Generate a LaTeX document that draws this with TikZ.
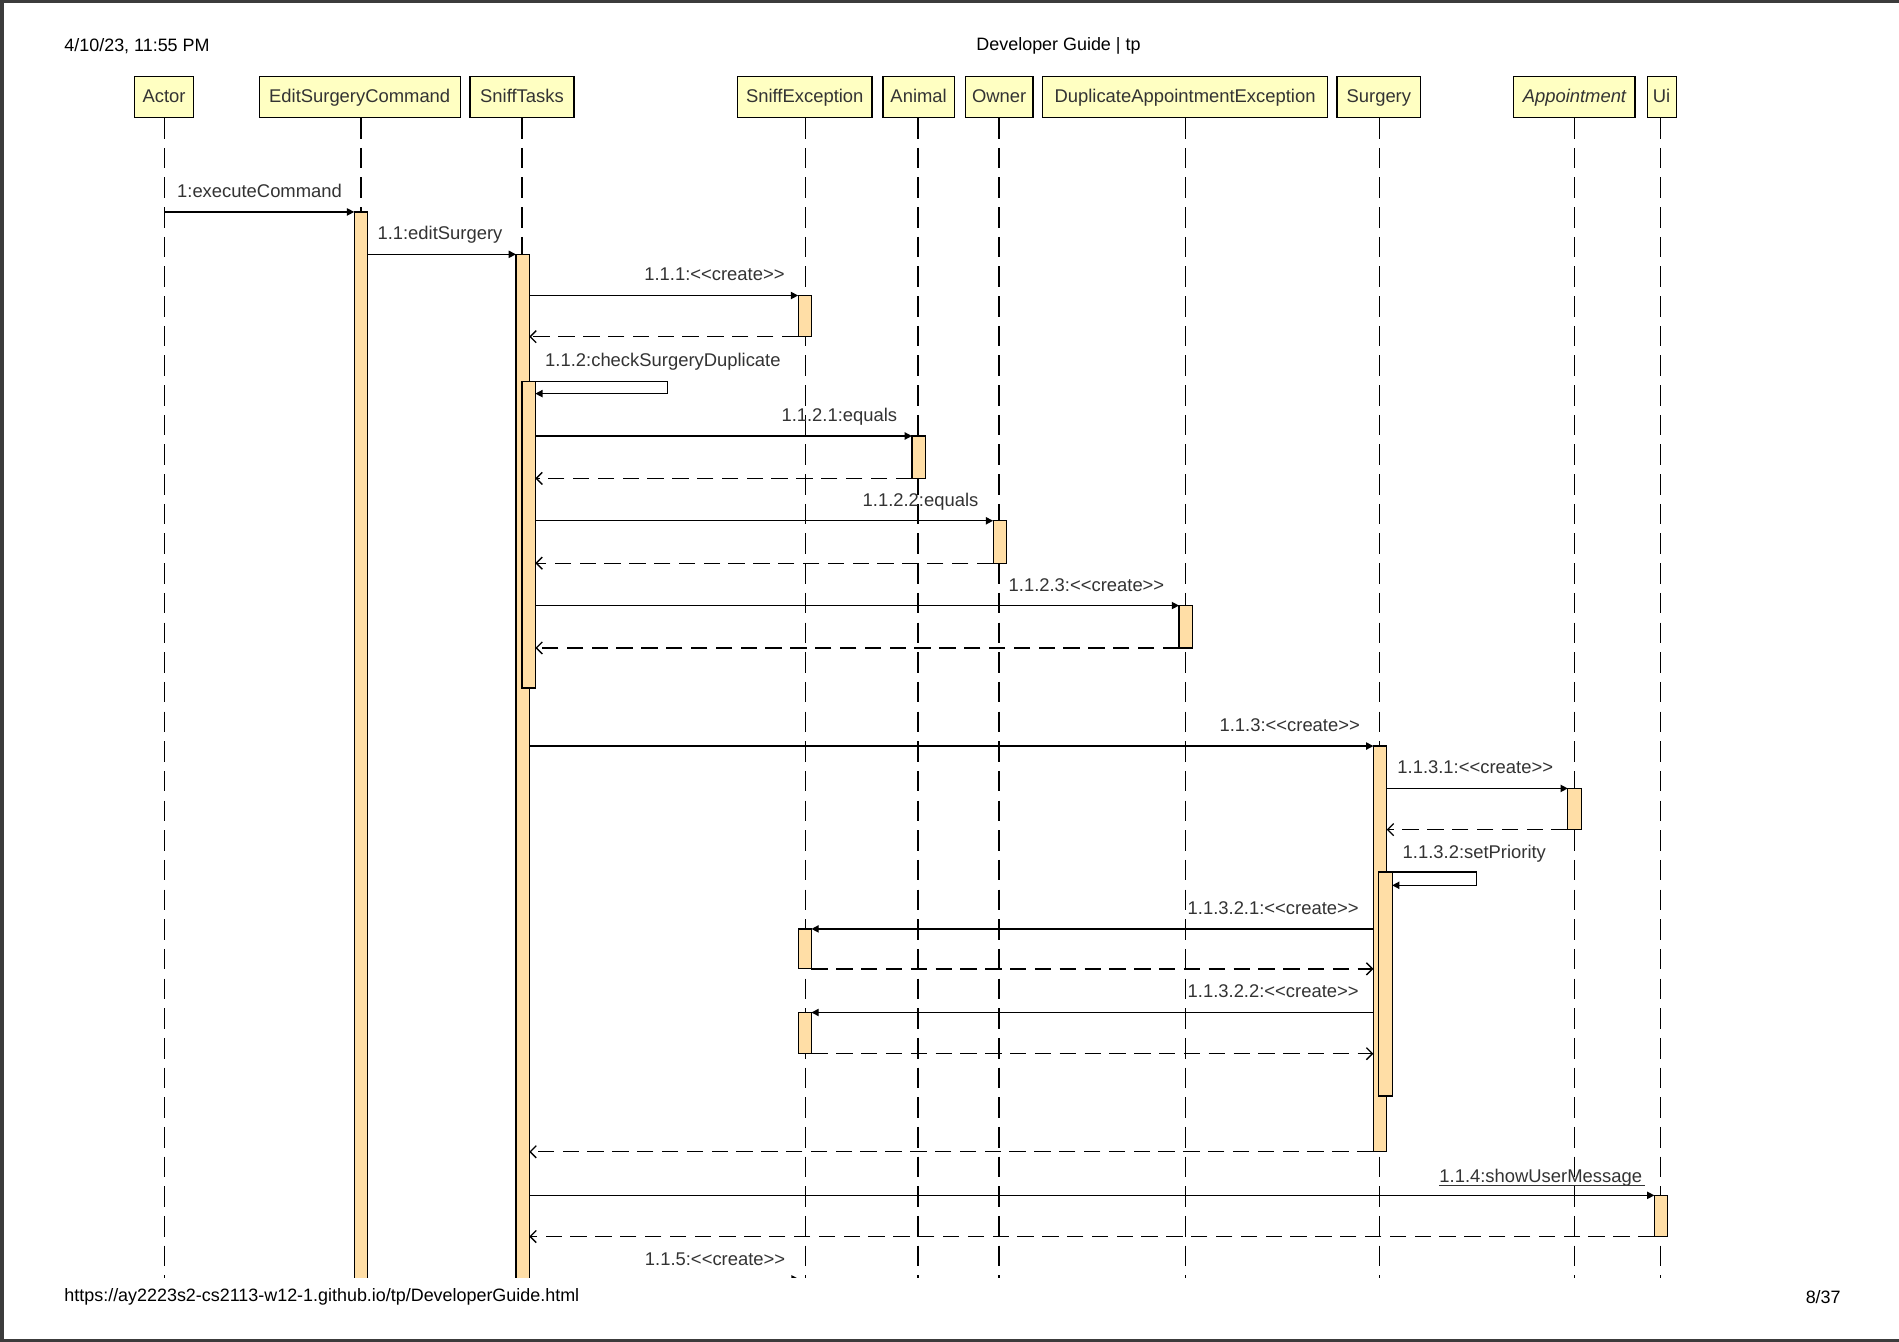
\documentclass[tikz,border=0pt]{standalone}
\usepackage{fontspec}
\setmainfont{Liberation Sans}
\usetikzlibrary{arrows.meta,calc}
\definecolor{headfill}{HTML}{FFFFC2}
\definecolor{actfill}{HTML}{FFDEA6}
\definecolor{txt}{HTML}{333333}
\definecolor{pageborder}{HTML}{3C3C3C}
\begin{document}
\begin{tikzpicture}[x=1pt,y=-1pt,
  head/.style={draw=black, line width=1pt, fill=headfill, minimum height=34pt, inner sep=0pt, text height=12pt, text depth=2pt, text=txt, font=\fontsize{15.2}{18}\selectfont},
  act/.style={draw=black, line width=1pt, fill=actfill, minimum width=11pt, inner sep=0pt, outer sep=0pt, anchor=north},
  lifeline/.style={line width=1.3pt, dash pattern=on 17pt off 7.5pt},
  msg/.style={line width=1.1pt, -{Triangle[length=6pt,width=6pt]}},
  ret/.style={line width=1.1pt, dash pattern=on 13.5pt off 7pt, -{Straight Barb[length=5pt,width=10pt]}},
  selfmsg/.style={line width=1.1pt, -{Triangle[length=6pt,width=6pt]}},
  lbl/.style={text=txt, font=\fontsize{15.2}{18}\selectfont, inner sep=0pt},
  pagetxt/.style={font=\fontsize{14.8}{18}\selectfont, inner sep=0pt}
]
\useasboundingbox (0,0) rectangle (1568,1108);
\fill[white] (0,0) rectangle (1568,1108);
% page frame
\draw[pageborder, line width=2.5pt] (0,1.2) -- (1568,1.2);
\draw[pageborder, line width=3pt] (1.5,0) -- (1.5,1108);
\draw[pageborder, line width=2.5pt] (0,1106.8) -- (1568,1106.8);
% page header / footer
\node[pagetxt, anchor=west] (date) at (53,38) {4/10/23, 11:55 PM};
\node[pagetxt] (title) at (874,38) {Developer Guide | tp};
\node[pagetxt, anchor=west] (url) at (53,1071) {https://ay2223s2-cs2113-w12-1.github.io/tp/DeveloperGuide.html};
\node[pagetxt, anchor=east] (pageno) at (1520,1071) {8/37};

% lifeline heads
\node[head, minimum width=49pt] (actor) at (135.5,80) {Actor};
\node[head, minimum width=166pt] (esc) at (297,80) {EditSurgeryCommand};
\node[head, minimum width=86pt] (st) at (431,80) {SniffTasks};
\node[head, minimum width=111pt] (se) at (664.5,80) {SniffException};
\node[head, minimum width=59pt] (an) at (758.5,80) {Animal};
\node[head, minimum width=56pt] (ow) at (825,80) {Owner};
\node[head, minimum width=235pt] (dae) at (978.5,80) {DuplicateAppointmentException};
\node[head, minimum width=69pt] (su) at (1138.5,80) {Surgery};
\node[head, minimum width=100pt] (ap) at (1300,80) {\itshape Appointment};
\node[head, minimum width=24pt] (ui) at (1372,80) {Ui};

\begin{scope}
\clip (0,0) rectangle (1568,1055);
% lifelines
\foreach \h/\x in {actor/136, esc/298, st/431, se/665, an/758, ow/825, dae/979, su/1139, ap/1300, ui/1371}{
  \draw[lifeline] (\h.south -| \x,0) -- (\x,1060);
}
% activations
\node[act, minimum height=900pt] (aESC) at (298,175) {};
\node[act, minimum height=870pt] (aST) at (431.5,210) {};
\node[act, minimum height=34pt] (aSE1) at (664.5,244) {};
\node[act, minimum height=253pt] (aST2) at (436.5,315) {};
\node[act, minimum height=35pt] (aAn) at (758.5,360) {};
\node[act, minimum height=35pt] (aOw) at (825.5,430) {};
\node[act, minimum height=35pt] (aDAE) at (979,500) {};
\node[act, minimum height=335pt] (aSu) at (1139.5,616) {};
\node[act, minimum height=34pt] (aAp) at (1300,651) {};
\node[act, minimum height=185pt] (aSu2) at (1144,720) {};
\node[act, minimum height=33pt] (aSE2) at (664.5,767) {};
\node[act, minimum height=34pt] (aSE3) at (664.5,836) {};
\node[act, minimum height=34pt] (aUi) at (1371.5,987) {};
\coordinate (c115) at (659.5,1056);

% messages
\draw[msg] (actor.south |- aESC.north) -- (aESC.north west);
\node[lbl, anchor=base east] (l1) at ($(aESC.north west)+(-10,-12)$) {1:executeCommand};

\draw[msg] (aESC.east |- aST.north) -- (aST.north west);
\node[lbl, anchor=base east] (l2) at ($(aST.north west)+(-11,-12)$) {1.1:editSurgery};

\draw[msg] (aST.east |- aSE1.north) -- (aSE1.north west);
\node[lbl, anchor=base east] (l3) at ($(aSE1.north west)+(-11,-12)$) {1.1.1:<{}<create>{}>};
\draw[ret] (aSE1.south west) -- (aST.east |- aSE1.south);

\draw[selfmsg] (aST2.north east) -- (551,315) -- (551,325) -- (aST2.east |- 0,325);
\node[lbl, anchor=base west] (l4) at (450,303) {1.1.2:checkSurgeryDuplicate};

\draw[msg] (aST2.east |- aAn.north) -- (aAn.north west);
\node[lbl, anchor=base east] (l5) at ($(aAn.north west)+(-12,-12)$) {1.1.2.1:equals};
\draw[ret] (aAn.south west) -- (aST2.east |- aAn.south);

\draw[msg] (aST2.east |- aOw.north) -- (aOw.north west);
\node[lbl, anchor=base east] (l6) at ($(aOw.north west)+(-12,-12)$) {1.1.2.2:equals};
\draw[ret] (aOw.south west) -- (aST2.east |- aOw.south);

\draw[msg] (aST2.east |- aDAE.north) -- (aDAE.north west);
\node[lbl, anchor=base east] (l7) at ($(aDAE.north west)+(-12,-12)$) {1.1.2.3:<{}<create>{}>};
\draw[ret] (aDAE.south west) -- (aST2.east |- aDAE.south);

\draw[msg] (aST.east |- aSu.north) -- (aSu.north west);
\node[lbl, anchor=base east] (l8) at ($(aSu.north west)+(-11,-12)$) {1.1.3:<{}<create>{}>};

\draw[msg] (aSu.east |- aAp.north) -- (aAp.north west);
\node[lbl, anchor=base east] (l9) at ($(aAp.north west)+(-12,-12)$) {1.1.3.1:<{}<create>{}>};
\draw[ret] (aAp.south west) -- (aSu.east |- aAp.south);

\draw[selfmsg] (aSu2.north east) -- (1219,720) -- (1219,731) -- (aSu2.east |- 0,731);
\node[lbl, anchor=base west] (l10) at (1158,709) {1.1.3.2:setPriority};

\draw[msg] (aSu.west |- aSE2.north) -- (aSE2.north east);
\node[lbl, anchor=base east] (l11) at ($(aSu.west |- aSE2.north)+(-12,-12)$) {1.1.3.2.1:<{}<create>{}>};
\draw[ret] (aSE2.south east) -- (aSu.west |- aSE2.south);

\draw[msg] (aSu.west |- aSE3.north) -- (aSE3.north east);
\node[lbl, anchor=base east] (l12) at ($(aSu.west |- aSE3.north)+(-12,-12)$) {1.1.3.2.2:<{}<create>{}>};
\draw[ret] (aSE3.south east) -- (aSu.west |- aSE3.south);

\draw[ret] (aSu.south west) -- (aST.east |- aSu.south);

\draw[msg] (aST.east |- aUi.north) -- (aUi.north west);
\node[lbl, anchor=base east] (l13) at ($(aUi.north west)+(-10,-11)$) {1.1.4:showUserMessage};
\draw[line width=1pt, txt] ($(l13.south west)+(0,-0.5)$) -- ($(l13.south east)+(2,-0.5)$);
\draw[ret] (aUi.south west) -- (aST.east |- aUi.south);

\draw[msg] (aST.east |- c115) -- (c115);
\node[lbl, anchor=base east] (l14) at ($(c115)+(-11,-11)$) {1.1.5:<{}<create>{}>};
\end{scope}
\end{tikzpicture}
\end{document}
